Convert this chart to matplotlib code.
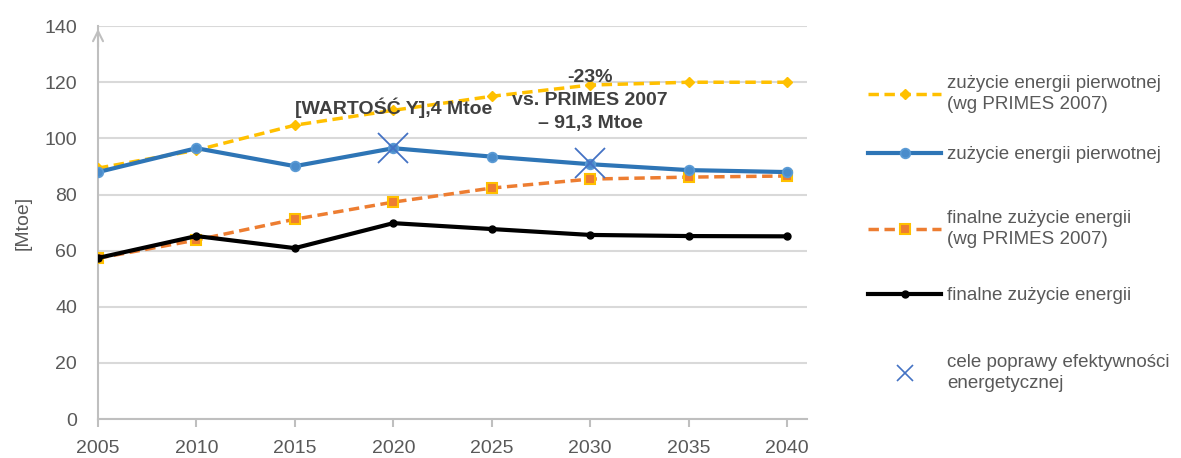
import matplotlib
matplotlib.use("Agg")
import matplotlib.pyplot as plt
from matplotlib.lines import Line2D

plt.rcParams['font.family'] = ['Liberation Sans Narrow', 'Liberation Sans', 'DejaVu Sans']

# data
years = [2005, 2010, 2015, 2020, 2025, 2030, 2035, 2040]
primary_primes = [89.4, 95.8, 104.7, 110.0, 115.0, 119.0, 120.0, 120.0]
primary = [88.0, 96.5, 90.1, 96.5, 93.5, 90.8, 88.7, 88.0]
final_primes = [57.3, 63.8, 71.2, 77.3, 82.3, 85.5, 86.2, 86.6]
final = [57.4, 65.2, 60.9, 69.8, 67.7, 65.6, 65.2, 65.1]
target_years = [2020, 2030]
target_values = [96.4, 91.3]

labels = [
    "zużycie energii pierwotnej\n(wg PRIMES 2007)",
    "zużycie energii pierwotnej",
    "finalne zużycie energii\n(wg PRIMES 2007)",
    "finalne zużycie energii",
    "cele poprawy efektywności\nenergetycznej",
]

gray = "#595959"
grid = "#D9D9D9"

fig = plt.figure(figsize=(11.81, 4.58), dpi=100)
ax = fig.add_axes([0.083, 0.085, 0.600, 0.858])

l1, = ax.plot(years, primary_primes, color="#FFC000", lw=2.5, ls=(0, (3, 1.6)),
              marker="D", ms=5, zorder=3)
l2, = ax.plot(years, primary, color="#2E75B6", lw=3, marker="o", ms=7,
              mfc="#4A8CCB", mec="#5B9BD5", mew=1.2, zorder=4)
l3, = ax.plot(years, final_primes, color="#ED7D31", lw=2.5, ls=(0, (3, 1.6)),
              marker="s", ms=7, mfc="#ED7D31", mec="#FFC000", mew=1.5, zorder=3)
l4, = ax.plot(years, final, color="black", lw=3, marker="o", ms=5, zorder=4)
ax.plot(target_years, target_values, ls="none", marker="x", ms=22,
        mew=1.3, color="#4472C4", zorder=5)
l5 = Line2D([], [], ls="none", marker="x", ms=11, mew=1.2, color="#4472C4")

ax.set_xlim(2005, 2041)
ax.set_ylim(0, 140)
ax.set_xticks(years)
ax.set_yticks(range(0, 141, 20))
ax.yaxis.grid(True, color=grid, lw=1.5)
ax.set_axisbelow(True)

for s in ["top", "right"]:
    ax.spines[s].set_visible(False)
ax.spines["left"].set_color("#BFBFBF")
ax.spines["bottom"].set_color("#BFBFBF")
ax.spines["left"].set_linewidth(1.5)
ax.spines["bottom"].set_linewidth(1.5)
ax.annotate("", xy=(0, 1.0), xytext=(0, 0.94), xycoords="axes fraction",
            arrowprops=dict(arrowstyle="->", color="#BFBFBF", lw=1.5,
                            mutation_scale=18), annotation_clip=False)

ax.tick_params(axis="y", length=0, labelsize=14, labelcolor=gray, pad=15)
ax.tick_params(axis="x", length=6, width=1.5, color="#BFBFBF", direction="out",
               labelsize=14, labelcolor=gray, pad=9)
ax.set_ylabel("[Mtoe]", fontsize=14, color=gray, labelpad=9)

ax.text(2020, 110.8, "[WARTOŚĆ Y],4 Mtoe", ha="center", va="center",
        fontsize=14, fontweight="bold", color="#404040")
ax.text(2030, 113.6, "-23%\nvs. PRIMES 2007\n– 91,3 Mtoe", ha="center", va="center",
        fontsize=14, fontweight="bold", color="#404040", linespacing=1.45)

# legend entries placed one by one (uneven spacing like the original)
legend_y = [0.795, 0.662, 0.500, 0.354, 0.186]
for h, lab, yy in zip([l1, l2, l3, l4, l5], labels, legend_y):
    leg = fig.legend([h], [lab], loc="center left", bbox_to_anchor=(0.735, yy),
                     frameon=False, fontsize=13.5, labelcolor=gray,
                     handlelength=3.9, handletextpad=0.3, borderpad=0,
                     borderaxespad=0)
    for t in leg.get_texts():
        t.set_linespacing(1.35)

fig.savefig("out.png", dpi=100)
